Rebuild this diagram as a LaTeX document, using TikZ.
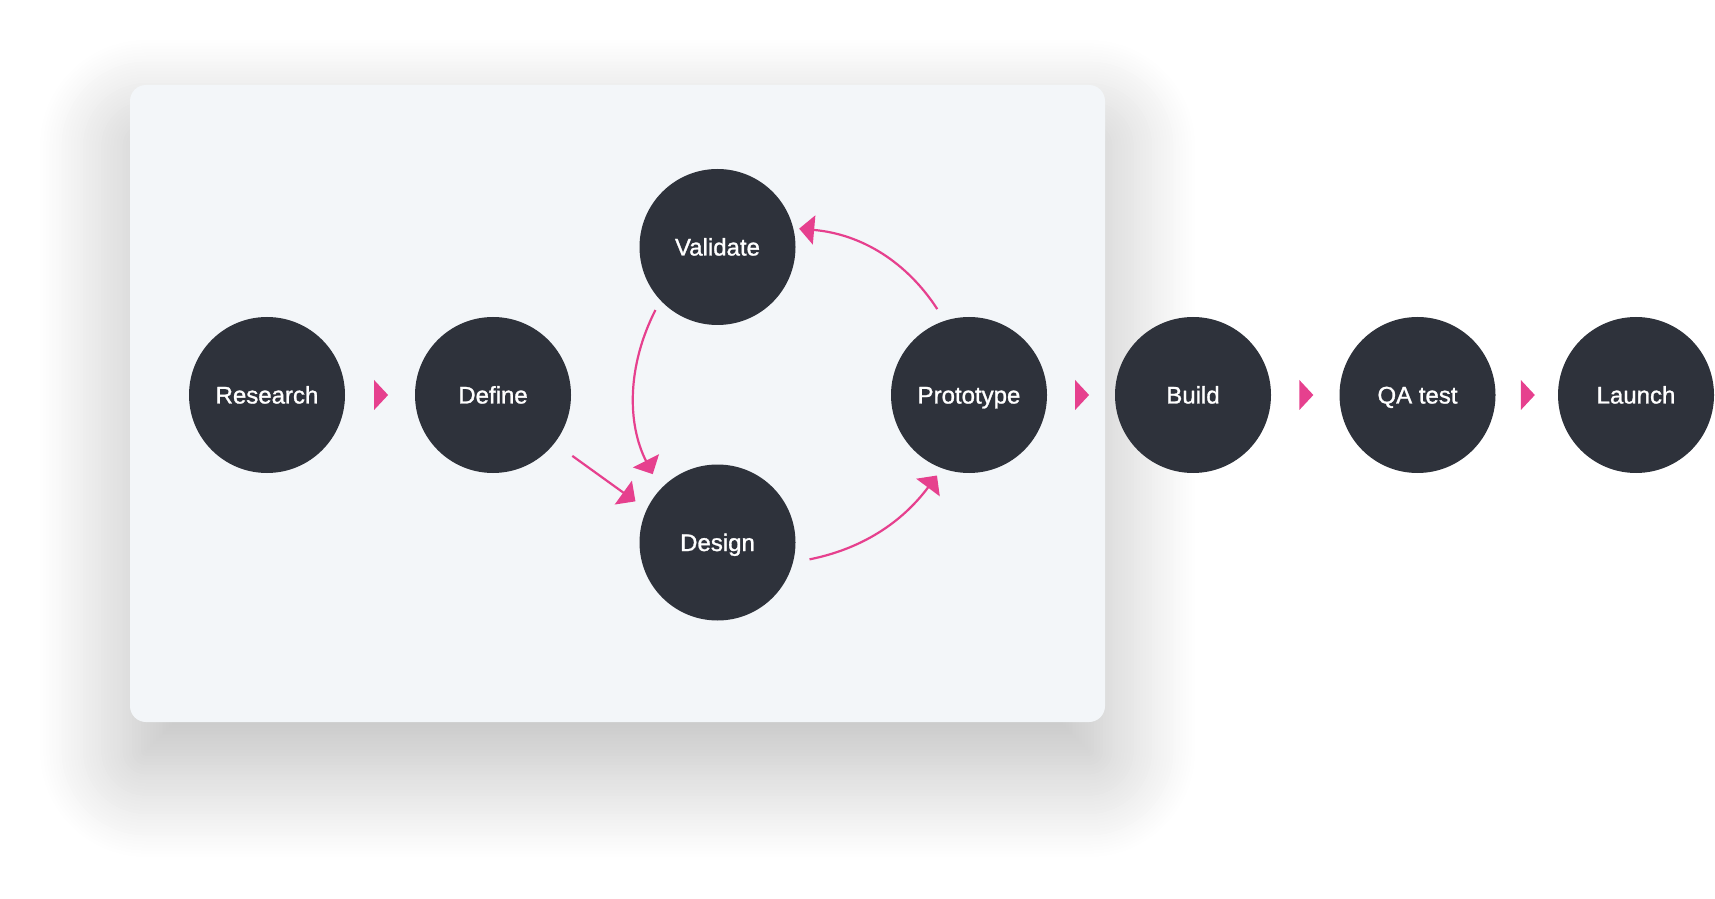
\documentclass[tikz,border=0pt]{standalone}
\usepackage{fontspec}
\setmainfont{Liberation Sans}
\newfontfamily\stagefont{Liberation Sans}[FakeBold=1.2]
\usepackage{tikz}
\usetikzlibrary{shapes.geometric,arrows.meta,positioning,calc,shadows.blur}
\definecolor{flowpink}{HTML}{E6408E}
\definecolor{stageslate}{HTML}{2E323B}
\definecolor{panelgrey}{HTML}{F3F6F9}

\begin{document}
\begin{tikzpicture}[
  x=1pt, y=1pt,
  every node/.style={font=\stagefont\fontsize{24}{28}\selectfont},
  stage/.style={circle, fill=stageslate, text=white, minimum size=156pt,
    inner sep=2pt, outer sep=0pt, text height=17pt, text depth=0pt},
  tipmark/.style={isosceles triangle, fill=flowpink, inner sep=0pt,
    isosceles triangle stretches, minimum width=30pt, minimum height=14pt},
  loop/.style={draw=flowpink, line width=2.2pt,
    -{Triangle[length=15pt, width=29pt]}}]
\useasboundingbox (0,0) rectangle (1715,898);
% the iteration panel with its soft shadow
\path[fill=panelgrey, rounded corners=16pt,
  blur shadow={shadow xshift=0pt, shadow yshift=-45pt,
    shadow blur radius=90pt, shadow blur steps=30, shadow opacity=27}]
  (130,176) rectangle (1105,813);
\node[stage] (research) at (267,503) {Research};
\node[stage, right=70pt of research] (define) {Define};
\node[stage] (validate) at (717.5,651) {Validate};
\node[stage] (design) at (717.5,355.5) {Design};
\node[stage, right=320pt of define] (prototype) {Prototype};
\node[stage, right=68pt of prototype] (build) {Build};
\node[stage, right=68.5pt of build] (qa) {QA test};
\node[stage, right=62.5pt of qa] (launch) {Launch};
\foreach \src/\dst in {research/define, prototype/build, build/qa, qa/launch} {
  \path (\src) -- node[tipmark] {} (\dst);}
% loop between validate, design and prototype
\draw[loop, shorten <=22pt, shorten >=14pt] (define.-38) -- (design.155);
\draw[loop, shorten <=11pt, shorten >=17pt]
  (validate.223) to[bend right=27] (design.137);
\draw[loop, shorten <=17pt, shorten >=9pt]
  (design.-15) to[bend right=21] (prototype.250.6);
\draw[loop, shorten <=14pt, shorten >=6pt]
  (prototype.108) to[out=123, in=-5] (validate.14);
\end{tikzpicture}
\end{document}
